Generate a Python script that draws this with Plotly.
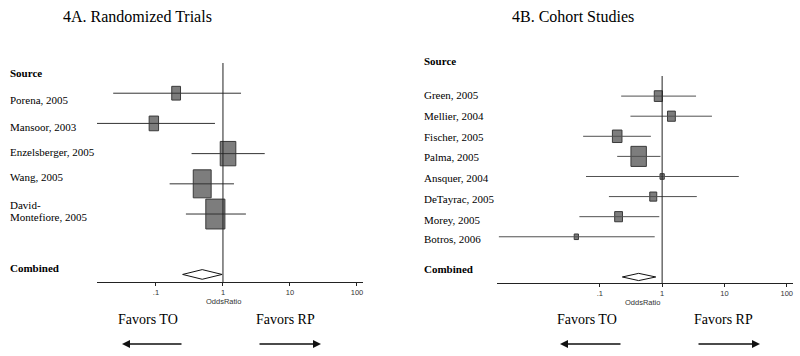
import math
import plotly.graph_objects as go

W, H = 800, 356

# ---------------- data ----------------
left_studies = ["Porena, 2005", "Mansoor, 2003", "Enzelsberger, 2005", "Wang, 2005", "David-<br>Montefiore, 2005"]
left_or = [0.20, 0.093, 1.19, 0.49, 0.77]
left_lo = [0.023, 0.013, 0.34, 0.16, 0.28]
left_hi = [1.86, 0.76, 4.2, 1.46, 2.2]
left_weight = [7, 8, 22, 29, 33]
left_combined = [0.49, 0.25, 0.97]  # OR, low, high

right_studies = ["Green, 2005", "Mellier, 2004", "Fischer, 2005", "Palma, 2005", "Ansquer, 2004",
                 "DeTayrac, 2005", "Morey, 2005", "Botros, 2006"]
right_or = [0.87, 1.41, 0.19, 0.42, 1.0, 0.72, 0.20, 0.042]
right_lo = [0.22, 0.31, 0.054, 0.19, 0.06, 0.14, 0.047, 0.0024]
right_hi = [3.5, 6.3, 0.66, 0.94, 17, 3.6, 0.9, 0.76]
right_weight = [11, 10, 15, 39, 3, 8, 10, 3]
right_combined = [0.42, 0.23, 0.79]

tick_vals = [0.1, 1, 10, 100]
tick_text = [".1", "1", "10", "100"]

# ---------------- helpers ----------------
def px_x(p):
    return p / W

def px_y(p):
    return 1 - p / H

BOX_FILL = "#7d7d7d"
BOX_LINE = "#3a3a3a"
SERIF = "Liberation Serif"
SANS = "Liberation Sans"

fig = go.Figure()


def add_panel(xa, ya, ors, los, his, weights, comb, kx, ky, dh, ci_color):
    n = len(ors)
    # boxes
    bx, by = [], []
    for i, (o, w) in enumerate(zip(ors, weights)):
        fx = 10 ** (kx * math.sqrt(w))
        hy = ky * math.sqrt(w)
        bx += [o / fx, o * fx, o * fx, o / fx, o / fx, None]
        by += [i - hy, i - hy, i + hy, i + hy, i - hy, None]
    fig.add_trace(go.Scatter(x=bx, y=by, mode="lines", fill="toself", fillcolor=BOX_FILL,
                             line=dict(color=BOX_LINE, width=1), xaxis=xa, yaxis=ya,
                             hoverinfo="skip", showlegend=False))
    # CI lines
    lx, ly = [], []
    for i, (lo, hi) in enumerate(zip(los, his)):
        lx += [lo, hi, None]
        ly += [i, i, None]
    fig.add_trace(go.Scatter(x=lx, y=ly, mode="lines", line=dict(color=ci_color, width=1),
                             xaxis=xa, yaxis=ya, hoverinfo="skip", showlegend=False))
    # combined diamond
    row = n + 1
    o, lo, hi = comb
    fig.add_trace(go.Scatter(x=[lo, o, hi, o, lo], y=[row, row - dh, row, row + dh, row],
                             mode="lines", fill="toself", fillcolor="white",
                             line=dict(color="#111111", width=1), xaxis=xa, yaxis=ya,
                             hoverinfo="skip", showlegend=False))


add_panel("x", "y", left_or, left_lo, left_hi, left_weight, left_combined,
          kx=0.0248, ky=0.086, dh=0.16, ci_color="#333333")
add_panel("x2", "y2", right_or, right_lo, right_hi, right_weight, right_combined,
          kx=0.0198, ky=0.08, dh=0.18, ci_color="#505050")

axis_common = dict(type="log", showgrid=False, zeroline=False, showline=True,
                   linecolor="#222222", linewidth=1, ticks="outside", ticklen=3,
                   tickcolor="#222222", tickvals=tick_vals, ticktext=tick_text,
                   tickfont=dict(family=SANS, size=7.5, color="#333333"), fixedrange=True)

fig.update_layout(
    width=W, height=H,
    margin=dict(l=0, r=0, t=0, b=0),
    paper_bgcolor="white", plot_bgcolor="white",
    showlegend=False,
    xaxis=dict(domain=[px_x(97), px_x(363)], range=[-1.88, 2.09], anchor="y", **axis_common),
    yaxis=dict(domain=[px_y(282), px_y(63)], range=[len(left_or) + 1.25, -1], visible=False,
               fixedrange=True),
    xaxis2=dict(domain=[px_x(497), px_x(793)], range=[-2.65, 2.10], anchor="y2", **axis_common),
    yaxis2=dict(domain=[px_y(283), px_y(76)], range=[len(right_or) + 1.3, -1], visible=False,
                fixedrange=True),
)

# reference line at OR = 1
fig.add_shape(type="line", xref="x", yref="y domain", x0=1, x1=1, y0=0, y1=1,
              line=dict(color="#222222", width=1))
fig.add_shape(type="line", xref="x2", yref="y2 domain", x0=1, x1=1, y0=0, y1=1,
              line=dict(color="#222222", width=1))

ann = []

def text(x, y, s, size=11, bold=False, family=SERIF, anchor="left", color="black"):
    ann.append(dict(x=px_x(x), y=px_y(y), xref="paper", yref="paper", text=("<b>%s</b>" % s) if bold else s,
                    showarrow=False, xanchor=anchor, yanchor="middle",
                    font=dict(family=family, size=size, color=color)))

# titles
text(137, 16, "4A. Randomized Trials", size=16, anchor="center")
text(573, 16, "4B. Cohort Studies", size=16, anchor="center")

# left labels
text(8, 73, "Source", bold=True)
left_label_y = [100, 127, 152, 177, 205]
for lab, yy in zip(left_studies, left_label_y):
    for k, part in enumerate(lab.split("<br>")):
        text(8, yy + 12 * k, part)
text(8, 268, "Combined", bold=True)

# right labels
text(422, 61, "Source", bold=True)
right_label_y = [95, 116, 137, 157, 178, 199, 220, 239]
for lab, yy in zip(right_studies, right_label_y):
    text(422, yy, lab)
text(422, 269, "Combined", bold=True)

# axis titles
text(223, 301, "OddsRatio", size=7.5, family=SANS, anchor="center", color="#333333")
text(642, 302, "OddsRatio", size=7.5, family=SANS, anchor="center", color="#333333")

# favors
text(148, 319, "Favors TO", size=14, anchor="center")
text(285, 319, "Favors RP", size=14, anchor="center")
text(587, 319, "Favors TO", size=14, anchor="center")
text(723, 319, "Favors RP", size=14, anchor="center")

# arrows (head, tail)
for head, tail in [(122, 183), (321, 258), (560, 622), (760, 697)]:
    ann.append(dict(x=px_x(head), y=px_y(344), xref="paper", yref="paper", text="",
                    showarrow=True, ax=tail - head, ay=0, axref="pixel", ayref="pixel",
                    arrowhead=2, arrowsize=1, arrowwidth=1.6, arrowcolor="#111111"))

fig.update_layout(annotations=ann)

fig.write_html("out.html", config={"displayModeBar": False, "staticPlot": False},
               post_script="document.body.style.margin='0';document.body.style.overflow='hidden';")
